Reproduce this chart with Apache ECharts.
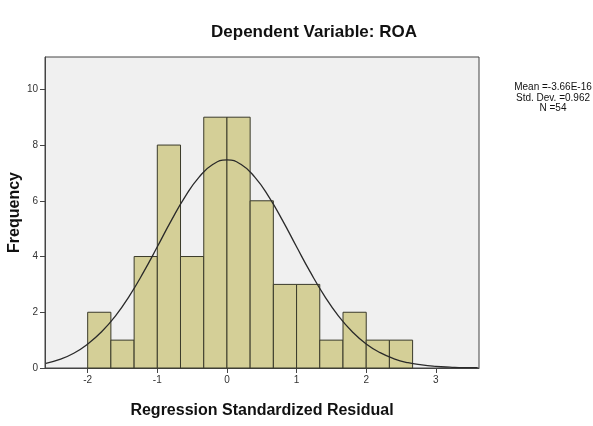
<!DOCTYPE html>
<html>
<head>
<meta charset="utf-8">
<script src="https://cdn.jsdelivr.net/npm/echarts@6/dist/echarts.min.js"></script>
<style>
  html, body { margin: 0; padding: 0; background: #fff; }
  #chart { width: 593px; height: 426px; }
</style>
</head>
<body>
<div id="chart"></div>
<script>
// histogram bins (left edges), bin width 1/3
const binStarts = [-2, -1.667, -1.333, -1, -0.667, -0.333, 0, 0.333, 0.667, 1, 1.333, 1.667, 2, 2.333];
const binWidth = 0.3333;
const counts = [2, 1, 4, 8, 4, 9, 9, 6, 3, 3, 1, 2, 1, 1];

// normal curve
const curveX = [-2.6, -2.4, -2.2, -2.0, -1.8, -1.6, -1.4, -1.2, -1.0, -0.8, -0.6, -0.4, -0.2, 0,
  0.2, 0.4, 0.6, 0.8, 1.0, 1.2, 1.4, 1.6, 1.8, 2.0, 2.2, 2.4, 2.6, 2.8, 3.0, 3.2, 3.4, 3.6];
const curveY = [0.17, 0.31, 0.53, 0.86, 1.30, 1.87, 2.59, 3.43, 4.35, 5.29, 6.15, 6.85, 7.31, 7.47,
  7.31, 6.85, 6.15, 5.29, 4.35, 3.43, 2.59, 1.87, 1.30, 0.86, 0.55, 0.33, 0.19, 0.11, 0.06, 0.03, 0.01, 0.01];

const xTicks = [-2, -1, 0, 1, 2, 3];
const yTicks = [0, 2, 4, 6, 8, 10];
const statLines = ['Mean =-3.66E-16', 'Std. Dev. =0.962', 'N =54'];

const font = '"Liberation Sans", Arial, sans-serif';
const chart = echarts.init(document.getElementById('chart'));

const option = {
  animation: false,
  title: {
    text: 'Dependent Variable: ROA',
    left: 309,
    top: 19,
    textAlign: 'center',
    textStyle: { fontFamily: font, fontSize: 17, fontWeight: 'bold', color: '#111' },
  },
  graphic: [
    {
      type: 'text',
      x: 553,
      y: 82,
      style: {
        text: statLines.join('\n'),
        font: '10px ' + font,
        fill: '#111',
        align: 'center',
        verticalAlign: 'top',
        lineHeight: 10.5,
      },
    },
  ],
  grid: {
    left: 45,
    top: 57,
    right: 114,
    bottom: 58,
    outerBoundsMode: 'none',
    containLabel: false,
    show: true,
    backgroundColor: '#f0f0f0',
    borderColor: '#444',
    borderWidth: 1,
  },
  xAxis: {
    type: 'value',
    min: -2.613,
    max: 3.62,
    name: 'Regression Standardized Residual',
    nameLocation: 'middle',
    nameGap: 35,
    nameMoveOverlap: false,
    nameTextStyle: { fontFamily: font, fontSize: 16, fontWeight: 'bold', color: '#111' },
    axisLine: { show: true, onZero: false, lineStyle: { color: '#444' } },
    axisTick: { show: true, customValues: xTicks, length: 5, lineStyle: { color: '#444' } },
    axisLabel: { customValues: xTicks, fontFamily: font, fontSize: 10, color: '#333', margin: 7 },
    splitLine: { show: false },
  },
  yAxis: {
    type: 'value',
    min: 0,
    max: 11.16,
    name: 'Frequency',
    nameLocation: 'middle',
    nameGap: 22,
    nameMoveOverlap: false,
    nameTextStyle: { fontFamily: font, fontSize: 16, fontWeight: 'bold', color: '#111' },
    axisLine: { show: true, onZero: false, lineStyle: { color: '#444' } },
    axisTick: { show: true, customValues: yTicks, length: 5, lineStyle: { color: '#444' } },
    axisLabel: { customValues: yTicks, fontFamily: font, fontSize: 10, color: '#333', margin: 7 },
    splitLine: { show: false },
  },
  series: [
    {
      type: 'custom',
      data: binStarts.map((s, i) => [s, s + binWidth, counts[i]]),
      renderItem: (params, api) => {
        const p0 = api.coord([api.value(0), 0]);
        const p1 = api.coord([api.value(1), api.value(2)]);
        return {
          type: 'rect',
          shape: { x: p0[0], y: p1[1], width: p1[0] - p0[0], height: p0[1] - p1[1] },
          style: { fill: '#d4cf97', stroke: '#3a3a2a', lineWidth: 1 },
        };
      },
      z: 2,
    },
    {
      type: 'line',
      data: curveX.map((x, i) => [x, curveY[i]]),
      smooth: true,
      symbol: 'none',
      lineStyle: { color: '#2a2a2a', width: 1.3 },
      z: 3,
    },
  ],
};

chart.setOption(option);
</script>
</body>
</html>
